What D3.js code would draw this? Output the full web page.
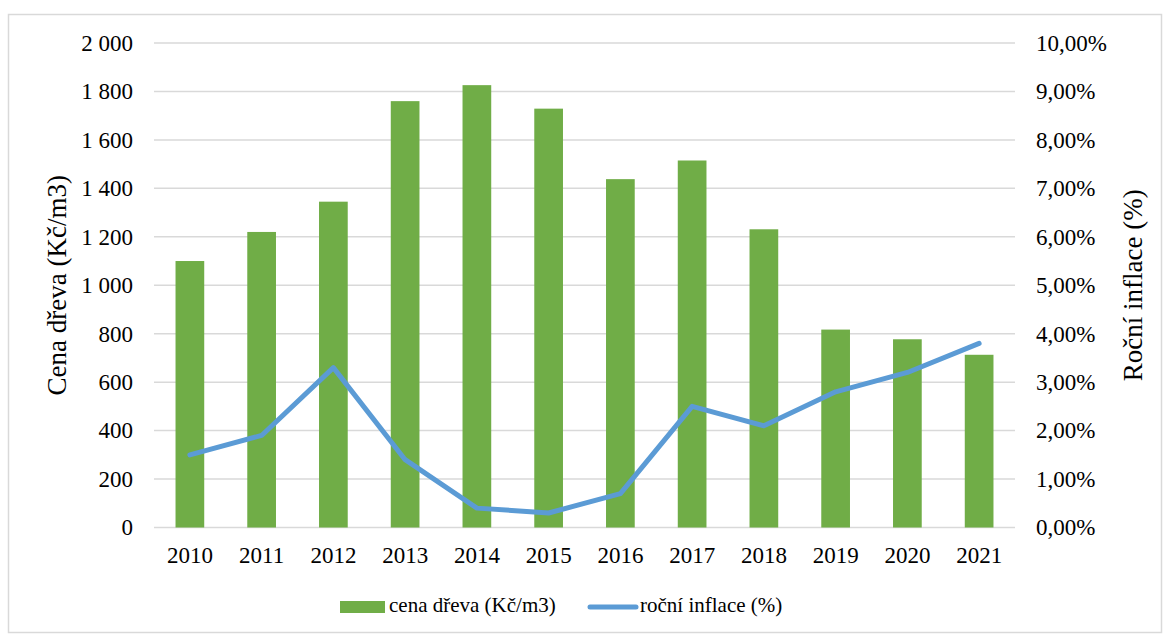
<!DOCTYPE html>
<html><head><meta charset="utf-8">
<script src="https://cdn.jsdelivr.net/npm/d3@7/dist/d3.min.js"></script>
<style>body{margin:0;background:#fff}svg{display:block}text{font-family:'Times New Roman','Liberation Serif',Times,serif !important;fill:#000}</style>
</head><body>
<svg id="c" width="1170" height="636"></svg>
<script>
const years = ["2010","2011","2012","2013","2014","2015","2016","2017","2018","2019","2020","2021"];
const cenaDreva = [1100,1220,1345,1760,1826,1729,1438,1515,1231,817,777,713];
const inflace = [1.5,1.9,3.3,1.4,0.4,0.3,0.7,2.5,2.1,2.8,3.2,3.8];
const leftTicks = [0,200,400,600,800,1000,1200,1400,1600,1800,2000];
const rightTicks = [0,1,2,3,4,5,6,7,8,9,10];
const seriesNames = ["cena dřeva (Kč/m3)","roční inflace (%)"];
const axisTitles = ["Cena dřeva (Kč/m3)","Roční inflace (%)"];

const svg = d3.select("#c");
const L=154, R=1015, T=43, B=527.5;
svg.append("rect").attr("x",8.5).attr("y",14.5).attr("width",1153).attr("height",618).attr("fill","#fff").attr("stroke","#d9d9d9").attr("stroke-width",1.5);

const x = d3.scaleBand().domain(years).range([L,R]).paddingInner(0.6).paddingOuter(0.3);
const yL = d3.scaleLinear().domain([0,2000]).range([B,T]);
const yR = d3.scaleLinear().domain([0,10]).range([B,T]);
const fmtL = d=> d3.format(",")(d).replace(/,/g," ");
const fmtR = d=> d.toFixed(2).replace(".",",")+"%";

svg.append("g").selectAll("line").data(leftTicks).join("line")
 .attr("x1",L).attr("x2",R).attr("y1",d=>yL(d)).attr("y2",d=>yL(d))
 .attr("stroke","#d9d9d9").attr("stroke-width",1.5);

function styleAxis(g){ g.select(".domain").remove(); g.attr("font-family",null).attr("font-size",null);
  g.selectAll("text").style("font-size","23px"); }

const gl = svg.append("g").attr("transform",`translate(${L},0)`)
 .call(d3.axisLeft(yL).tickValues(leftTicks).tickFormat(fmtL).tickSize(0).tickPadding(21));
styleAxis(gl);
const gr = svg.append("g").attr("transform",`translate(${R},0)`)
 .call(d3.axisRight(yR).tickValues(rightTicks).tickFormat(fmtR).tickSize(0).tickPadding(21));
styleAxis(gr);
const gx = svg.append("g").attr("transform",`translate(0,${B})`)
 .call(d3.axisBottom(x).tickSize(0).tickPadding(19));
styleAxis(gx);

svg.append("g").selectAll("rect").data(years).join("rect")
 .attr("x",d=>x(d)).attr("width",x.bandwidth())
 .attr("y",(d,i)=>yL(cenaDreva[i])).attr("height",(d,i)=>B-yL(cenaDreva[i]))
 .attr("fill","#70ad47");

const line = d3.line().x((d,i)=>x(years[i])+x.bandwidth()/2).y(d=>yR(d));
svg.append("path").datum(inflace).attr("d",line).attr("fill","none")
 .attr("stroke","#5b9bd5").attr("stroke-width",5).attr("stroke-linejoin","round").attr("stroke-linecap","round");

svg.append("text").attr("transform",`translate(66,${(T+B)/2}) rotate(-90)`).attr("text-anchor","middle")
 .style("font-size","27px").text(axisTitles[0]);
svg.append("text").attr("transform",`translate(1142,${(T+B)/2}) rotate(-90)`).attr("text-anchor","middle")
 .style("font-size","27px").text(axisTitles[1]);

const lg = svg.append("g");
lg.append("rect").attr("x",340).attr("y",601).attr("width",45).attr("height",12).attr("fill","#70ad47");
lg.append("text").attr("x",389).attr("y",612).style("font-size","21px").text(seriesNames[0]);
lg.append("line").attr("x1",590).attr("x2",636).attr("y1",607).attr("y2",607).attr("stroke","#5b9bd5").attr("stroke-width",5).attr("stroke-linecap","round");
lg.append("text").attr("x",640).attr("y",612).style("font-size","21px").text(seriesNames[1]);
</script>
</body></html>
